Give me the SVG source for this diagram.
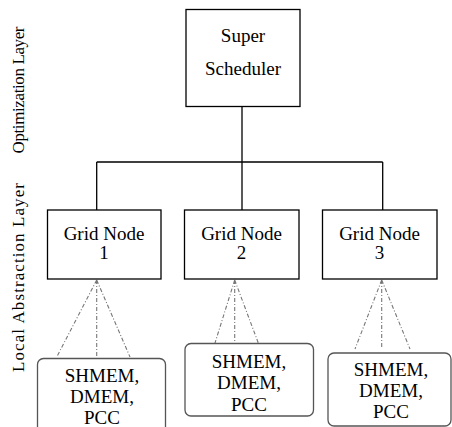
<svg xmlns="http://www.w3.org/2000/svg" width="452" height="427" viewBox="0 0 452 427">
  <style>
    .box { fill: #fff; stroke: #000; stroke-width: 1.3; }
    .mem { fill: #fff; stroke: #555; stroke-width: 1.3; }
    .tree { fill: none; stroke: #000; stroke-width: 1.3; }
    .dots { fill: none; stroke: #777; stroke-width: 1.1; stroke-dasharray: 4 2 1 2; }
  </style>
  <rect width="452" height="427" fill="#fff"/>

  <!-- layer captions -->
  <g id="layers" font-family="Liberation Serif" font-size="17" text-anchor="middle" fill="#000">
    <text transform="translate(24,90) rotate(-90)" textLength="127" lengthAdjust="spacing">Optimization  Layer</text>
    <text transform="translate(24,277.5) rotate(-90)" textLength="189" lengthAdjust="spacing">Local Abstraction Layer</text>
  </g>

  <!-- connectors -->
  <g id="connectors">
    <path class="tree" d="M242,106.5 V162 M96.7,162 H382.7 M96.7,162 V210 M242,162 V210 M382.7,162 V210"/>
    <path class="dots" d="M96.7,280 L56.7,357 M96.7,280 V357 M96.7,280 L130,357"/>
    <path class="dots" d="M234.7,280 L215,343 M234.7,280 V343 M234.7,280 L258.3,343"/>
    <path class="dots" d="M381.7,280 L355,349 M381.7,280 V349 M381.7,280 L410,349"/>
  </g>

  <g id="super-scheduler" font-family="Liberation Serif" font-size="19" text-anchor="middle" fill="#000">
    <rect class="box" x="186" y="9.5" width="114" height="97"/>
    <text x="243" y="42">Super</text>
    <text x="243" y="75">Scheduler</text>
  </g>

  <g id="grid-node-1" font-family="Liberation Serif" font-size="19" text-anchor="middle" fill="#000">
    <rect class="box" x="47.5" y="210" width="113.5" height="69"/>
    <text x="104" y="240">Grid Node</text>
    <text x="104" y="259">1</text>
  </g>
  <g id="grid-node-2" font-family="Liberation Serif" font-size="19" text-anchor="middle" fill="#000">
    <rect class="box" x="184.5" y="210" width="114.5" height="69"/>
    <text x="241.5" y="240">Grid Node</text>
    <text x="241.5" y="259">2</text>
  </g>
  <g id="grid-node-3" font-family="Liberation Serif" font-size="19" text-anchor="middle" fill="#000">
    <rect class="box" x="322.5" y="210" width="114.5" height="69"/>
    <text x="379.5" y="240">Grid Node</text>
    <text x="379.5" y="259">3</text>
  </g>

  <g id="memory-1" font-family="Liberation Serif" font-size="19" text-anchor="middle" fill="#000">
    <rect class="mem" x="37.5" y="358.5" width="128" height="85" rx="6"/>
    <text x="102" y="382">SHMEM,</text>
    <text x="102" y="403">DMEM,</text>
    <text x="102" y="424">PCC</text>
  </g>
  <g id="memory-2" font-family="Liberation Serif" font-size="19" text-anchor="middle" fill="#000">
    <rect class="mem" x="185" y="343.5" width="128.5" height="72.5" rx="6"/>
    <text x="249" y="368">SHMEM,</text>
    <text x="249" y="389">DMEM,</text>
    <text x="249" y="410.5">PCC</text>
  </g>
  <g id="memory-3" font-family="Liberation Serif" font-size="19" text-anchor="middle" fill="#000">
    <rect class="mem" x="328" y="353" width="123" height="73" rx="6"/>
    <text x="391" y="376">SHMEM,</text>
    <text x="391" y="397">DMEM,</text>
    <text x="391" y="418">PCC</text>
  </g>
</svg>
